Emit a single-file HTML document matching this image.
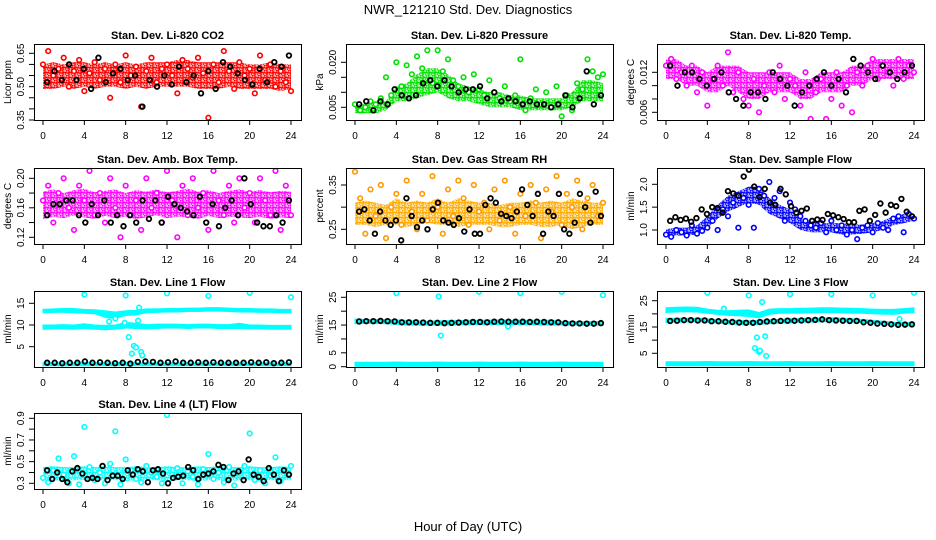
<!DOCTYPE html>
<html><head><meta charset="utf-8"><style>
html,body{margin:0;padding:0;background:#fff;}
svg{display:block;font-family:"Liberation Sans",sans-serif;}
</style></head><body>
<svg id="chart" width="936" height="540" viewBox="0 0 936 540" xmlns="http://www.w3.org/2000/svg">
<defs id="defs"></defs>
<text x="468" y="14" text-anchor="middle" font-size="13">NWR_121210  Std. Dev. Diagnostics</text>
<text x="468" y="531" text-anchor="middle" font-size="13">Hour of Day (UTC)</text>
</svg>
<script>
// ---- data ----
const xTicks=[0,4,8,12,16,20,24];
const co2Lo=[0.49,0.49,0.50,0.49,0.50,0.49,0.50,0.50,0.49,0.50,0.49,0.50,0.50,0.50,0.50,0.49,0.49,0.49,0.50,0.49,0.49,0.49,0.49,0.48,0.49];
const co2Hi=[0.60,0.61,0.60,0.61,0.61,0.60,0.61,0.60,0.61,0.60,0.61,0.61,0.61,0.62,0.62,0.61,0.61,0.61,0.61,0.61,0.60,0.60,0.61,0.60,0.60];
const co2Pts=[0.60,0.66,0.55,0.58,0.63,0.50,0.57,0.62,0.48,0.56,0.61,0.53,0.58,0.45,0.60,0.52,0.64,0.55,0.59,0.41,0.57,0.63,0.52,0.58,0.60,0.55,0.47,0.62,0.58,0.54,0.63,0.56,0.36,0.60,0.52,0.66,0.57,0.49,0.61,0.55,0.58,0.47,0.64,0.53,0.60,0.50,0.57,0.52,0.48];
const co2Black=[0.52,0.57,0.53,0.60,0.53,0.58,0.49,0.63,0.52,0.56,0.58,0.53,0.55,0.41,0.53,0.50,0.55,0.51,0.59,0.52,0.55,0.47,0.57,0.49,0.61,0.59,0.56,0.53,0.51,0.58,0.52,0.61,0.59,0.64];
const co2Ticks=[0.35,0.40,0.45,0.50,0.55,0.60,0.65];
const co2Labels=["0.35","","","0.50","","","0.65"];

const presLo=[0.003,0.003,0.003,0.004,0.007,0.007,0.008,0.009,0.010,0.008,0.007,0.007,0.006,0.005,0.005,0.005,0.004,0.004,0.004,0.004,0.004,0.005,0.007,0.007,0.007];
const presHi=[0.006,0.006,0.007,0.007,0.012,0.013,0.016,0.018,0.018,0.016,0.013,0.012,0.011,0.010,0.010,0.009,0.009,0.008,0.008,0.008,0.008,0.010,0.014,0.014,0.013];
const presPts=[0.006,0.004,0.005,0.007,0.006,0.008,0.015,0.009,0.020,0.012,0.019,0.016,0.022,0.018,0.024,0.013,0.024,0.017,0.021,0.014,0.012,0.015,0.010,0.016,0.011,0.009,0.014,0.010,0.008,0.012,0.007,0.009,0.021,0.004,0.008,0.011,0.006,0.010,0.005,0.012,0.002,0.009,0.004,0.013,0.011,0.021,0.017,0.015,0.016];
const presBlack=[0.006,0.007,0.004,0.007,0.006,0.011,0.009,0.008,0.009,0.013,0.014,0.012,0.014,0.012,0.010,0.011,0.011,0.012,0.008,0.010,0.007,0.008,0.007,0.006,0.007,0.006,0.006,0.005,0.006,0.009,0.005,0.008,0.017,0.006,0.009];
const presTicks=[0.005,0.010,0.015,0.020];
const presLabels=["0.005","","","0.020"];

const tempLo=[0.011,0.011,0.010,0.010,0.009,0.009,0.010,0.009,0.008,0.008,0.009,0.009,0.009,0.008,0.008,0.009,0.009,0.009,0.010,0.010,0.011,0.011,0.011,0.011,0.011];
const tempHi=[0.014,0.014,0.013,0.013,0.012,0.013,0.013,0.013,0.012,0.012,0.012,0.012,0.012,0.011,0.011,0.012,0.012,0.012,0.013,0.013,0.014,0.014,0.014,0.014,0.014];
const tempPts=[0.013,0.014,0.011,0.012,0.010,0.013,0.009,0.012,0.007,0.011,0.013,0.010,0.015,0.009,0.012,0.008,0.007,0.011,0.006,0.010,0.012,0.009,0.013,0.008,0.011,0.010,0.007,0.012,0.005,0.009,0.011,0.005,0.008,0.012,0.007,0.010,0.006,0.012,0.010,0.013,0.014,0.011,0.013,0.012,0.010,0.014,0.011,0.013,0.012];
const tempBlack=[0.013,0.010,0.012,0.012,0.011,0.010,0.011,0.012,0.009,0.008,0.007,0.009,0.009,0.008,0.012,0.011,0.010,0.007,0.009,0.010,0.011,0.012,0.010,0.011,0.009,0.014,0.013,0.012,0.011,0.013,0.012,0.011,0.012,0.013];
const tempTicks=[0.006,0.008,0.010,0.012];
const tempLabels=["0.006","","","0.012"];

const ambLo=[0.145,0.148,0.146,0.150,0.147,0.145,0.149,0.146,0.148,0.145,0.147,0.150,0.146,0.148,0.147,0.145,0.149,0.146,0.148,0.147,0.146,0.148,0.145,0.147,0.146];
const ambHi=[0.182,0.185,0.180,0.184,0.186,0.181,0.183,0.185,0.180,0.184,0.182,0.185,0.181,0.183,0.186,0.182,0.184,0.180,0.183,0.185,0.182,0.184,0.181,0.183,0.182];
const ambPts=[0.17,0.19,0.14,0.18,0.20,0.16,0.13,0.19,0.17,0.21,0.15,0.18,0.14,0.20,0.16,0.12,0.19,0.15,0.17,0.13,0.20,0.16,0.18,0.14,0.21,0.17,0.12,0.19,0.15,0.20,0.16,0.18,0.13,0.21,0.17,0.15,0.19,0.14,0.20,0.16,0.18,0.14,0.20,0.17,0.15,0.21,0.13,0.19,0.15];
const ambBlack=[0.15,0.165,0.165,0.17,0.17,0.15,0.14,0.165,0.15,0.17,0.14,0.15,0.135,0.15,0.14,0.17,0.145,0.17,0.14,0.175,0.165,0.16,0.155,0.15,0.175,0.14,0.165,0.135,0.16,0.17,0.15,0.20,0.165,0.14,0.135,0.135,0.15,0.14,0.17];
const ambTicks=[0.12,0.14,0.16,0.18,0.20];
const ambLabels=["0.12","","0.16","","0.20"];

const rhLo=[0.26,0.26,0.255,0.26,0.26,0.255,0.26,0.265,0.26,0.26,0.255,0.26,0.26,0.26,0.255,0.255,0.26,0.26,0.255,0.255,0.26,0.25,0.255,0.26,0.26];
const rhHi=[0.31,0.315,0.31,0.305,0.32,0.31,0.315,0.31,0.32,0.31,0.32,0.315,0.31,0.31,0.305,0.31,0.31,0.315,0.31,0.315,0.31,0.32,0.315,0.31,0.31];
const rhPts=[0.38,0.32,0.24,0.34,0.28,0.35,0.23,0.30,0.33,0.26,0.36,0.29,0.25,0.33,0.27,0.37,0.30,0.24,0.34,0.28,0.36,0.32,0.26,0.35,0.29,0.31,0.25,0.34,0.27,0.36,0.30,0.24,0.33,0.28,0.35,0.31,0.23,0.34,0.29,0.37,0.26,0.33,0.30,0.36,0.25,0.32,0.35,0.28,0.31];
const rhBlack=[0.29,0.295,0.27,0.24,0.29,0.27,0.26,0.27,0.225,0.32,0.28,0.255,0.27,0.25,0.295,0.31,0.27,0.265,0.26,0.275,0.245,0.295,0.24,0.24,0.305,0.32,0.31,0.285,0.28,0.275,0.29,0.34,0.305,0.28,0.33,0.24,0.29,0.28,0.33,0.25,0.24,0.265,0.33,0.30,0.265,0.335,0.28];
const rhTicks=[0.25,0.30,0.35];
const rhLabels=["0.25","","0.35"];

const sfLo=[0.88,0.88,0.88,0.90,1.05,1.25,1.40,1.50,1.60,1.55,1.35,1.25,1.15,1.00,0.95,0.95,0.95,0.90,0.90,0.92,0.95,1.00,1.10,1.15,1.20];
const sfHi=[1.02,1.05,1.05,1.10,1.30,1.55,1.75,1.85,1.95,1.95,1.70,1.55,1.45,1.25,1.20,1.15,1.15,1.15,1.12,1.12,1.15,1.20,1.30,1.35,1.30];
const sfPts=[0.90,0.85,1.00,0.95,0.88,1.10,0.92,0.98,1.05,1.20,1.00,1.45,1.30,1.60,1.05,1.70,1.55,1.05,1.90,1.75,2.05,1.70,1.85,1.20,1.60,1.45,1.30,1.20,1.10,1.05,1.15,0.95,1.20,1.00,1.10,0.90,1.00,0.80,1.05,1.10,0.95,1.15,1.05,1.00,1.25,1.30,0.95,1.35,1.25];
const sfBlack=[1.20,1.28,1.22,1.25,1.18,1.26,1.45,1.35,1.50,1.48,1.38,1.85,1.80,1.75,2.17,2.32,1.95,1.72,1.90,1.60,1.55,1.90,1.78,1.52,1.38,1.42,1.47,1.20,1.23,1.22,1.35,1.32,1.28,1.24,1.17,1.17,1.42,1.45,1.20,1.33,1.58,1.38,1.55,1.52,1.68,1.40,1.30];
const sfTicks=[1.0,1.5,2.0];
const sfLabels=["1.0","1.5","2.0"];

const l1TopLo=[12.8,12.9,12.9,12.8,12.7,12.6,11.8,11.5,12.2,12.3,12.8,12.9,13.0,13.0,13.1,13.1,13.2,13.2,13.1,13.0,13.0,12.9,12.9,12.8,12.8];
const l1TopHi=[13.6,13.7,13.8,13.8,13.6,13.5,13.3,13.0,13.3,13.4,13.7,13.7,13.8,13.8,13.9,13.9,14.0,14.0,13.9,13.8,13.8,13.7,13.7,13.6,13.6];
const l1MidLo=[9.0,9.1,9.1,9.0,9.2,9.0,8.9,9.0,9.3,9.2,9.1,9.2,9.3,9.3,9.2,9.3,9.3,9.2,9.2,9.2,9.1,9.1,9.0,9.0,9.0];
const l1MidHi=[10.0,10.0,10.1,10.0,10.3,10.0,9.9,10.0,10.6,10.4,10.1,10.2,10.2,10.2,10.1,10.2,10.2,10.1,10.1,10.4,10.0,10.0,9.9,9.9,9.9];
const l1BotLo=[0.6,0.6,0.6,0.6,0.6,0.6,0.6,0.6,0.6,0.6,0.6,0.6,0.6,0.6,0.6,0.6,0.6,0.6,0.6,0.6,0.6,0.6,0.6,0.6,0.6];
const l1BotHi=[1.3,1.3,1.3,1.3,1.4,1.3,1.3,1.3,1.4,1.3,1.3,1.3,1.3,1.3,1.3,1.3,1.3,1.3,1.3,1.3,1.3,1.3,1.3,1.3,1.3];
const l1OutT=[4,8,12,16,20,24,7.9,8.3,8.6,8.8,9.0,9.2,9.5,9.6,9.3,6.4,7.0];
const l1OutV=[17,16.8,17.3,16.7,17.4,16.4,10.5,7.2,3.4,5.2,4.8,11.0,3.8,3.0,14.0,10.8,11.5];
const l1Black=[1.3,1.3,1.2,1.3,1.3,1.6,1.3,1.4,1.3,1.2,1.3,1.1,1.5,1.6,1.5,1.3,1.4,1.6,1.3,1.3,1.4,1.3,1.4,1.3,1.3,1.3,1.3,1.4,1.3,1.4,1.2,1.3,1.4];
const l1Ticks=[5,10,15];
const l1Labels=["5","10","15"];

const l2TopLo=[15.5,15.6,15.6,15.5,15.3,15.0,15.0,15.0,15.0,15.0,15.1,15.1,15.2,15.2,15.2,15.2,15.1,15.1,15.0,15.0,15.0,14.9,14.9,14.9,14.9];
const l2TopHi=[17.2,17.0,17.0,17.0,16.9,16.6,16.5,16.4,16.5,16.6,16.6,16.7,16.8,16.8,16.9,16.8,16.8,16.7,16.7,16.7,16.4,16.3,16.2,16.2,16.3];
const l2BotLo=[0.1,0.1,0.1,0.1,0.1,0.1,0.1,0.1,0.1,0.1,0.1,0.1,0.1,0.1,0.1,0.1,0.1,0.1,0.1,0.1,0.1,0.1,0.1,0.1,0.1];
const l2BotHi=[1.6,1.6,1.6,1.6,1.7,1.6,1.6,1.6,1.7,1.6,1.6,1.6,1.7,1.6,1.6,1.6,1.7,1.6,1.6,1.6,1.7,1.6,1.6,1.6,1.6];
const l2OutT=[4,8.1,8.3,12,16,20,24,14.8];
const l2OutV=[26.5,25.3,11.2,27,26.5,27,25.8,14.5];
const l2Black=[16.3,16.4,16.4,16.5,16.4,16.3,16.0,16.0,16.0,15.9,15.8,15.8,15.7,15.8,15.9,16.0,16.1,16.1,16.0,16.2,16.3,16.2,16.2,16.2,16.1,16.2,16.1,16.0,16.0,15.7,15.6,15.6,15.5,15.5,15.7];
const l2Ticks=[0,5,10,15,20,25];
const l2Labels=["0","5","","15","","25"];

const l3TopLo=[20.5,20.7,20.8,20.7,20.2,19.8,19.4,19.3,19.0,18.5,19.8,20.2,20.3,20.3,20.4,20.5,20.5,20.4,20.3,20.2,20.0,19.9,19.8,20.2,20.5];
const l3TopHi=[22.3,22.5,22.6,22.5,21.8,21.4,21.2,21.4,21.5,20.5,21.8,22.0,22.0,22.1,22.2,22.3,22.3,22.2,22.1,22.0,21.8,21.7,21.7,22.0,22.3];
const l3MidLo=[16.7,16.9,17.0,17.0,16.8,16.5,16.2,16.0,15.9,16.0,16.3,16.5,16.6,16.8,16.9,17.0,17.1,17.0,16.9,16.6,16.3,16.0,15.5,15.4,15.4];
const l3MidHi=[18.3,18.3,18.4,18.3,18.1,17.8,17.6,17.5,17.4,17.5,17.7,17.9,18.1,18.2,18.3,18.4,18.5,18.3,18.2,17.9,17.6,17.2,16.8,16.7,16.7];
const l3BotLo=[0.3,0.3,0.3,0.3,0.3,0.3,0.3,0.3,0.3,0.3,0.3,0.3,0.3,0.3,0.3,0.3,0.3,0.3,0.3,0.3,0.3,0.3,0.3,0.3,0.3];
const l3BotHi=[1.8,1.8,1.8,1.8,1.9,1.8,1.8,1.8,1.9,1.8,1.8,1.8,1.9,1.8,1.8,1.8,1.9,1.8,1.8,1.8,1.9,1.8,1.8,1.8,1.8];
const l3OutT=[4,8,9.3,12,16,20,24,8.6,8.8,9.0,9.1,9.6,9.7,5.6,22.6];
const l3OutV=[28,27,24.5,27.5,27.5,27,28,7,11,5.5,6,11.5,4,22,18];
const l3Black=[17.3,17.4,17.6,17.6,17.5,17.5,17.2,17.2,17.0,16.9,16.7,16.6,16.6,16.9,17.1,17.2,17.3,17.4,17.4,17.5,17.6,17.7,17.9,17.6,17.5,17.4,17.3,17.3,16.8,16.6,16.3,16.2,16.0,15.8,15.9,16.0];
const l3Ticks=[5,10,15,20,25];
const l3Labels=["5","","15","","25"];

const l4Lo=[0.33,0.33,0.32,0.33,0.33,0.32,0.33,0.33,0.32,0.33,0.33,0.33,0.32,0.33,0.33,0.32,0.33,0.33,0.32,0.33,0.33,0.32,0.33,0.33,0.33];
const l4Hi=[0.45,0.46,0.45,0.45,0.46,0.45,0.46,0.45,0.45,0.46,0.45,0.45,0.46,0.45,0.45,0.46,0.45,0.46,0.45,0.45,0.46,0.45,0.45,0.46,0.45];
const l4Pts=[0.35,0.31,0.42,0.53,0.38,0.30,0.55,0.29,0.82,0.45,0.33,0.40,0.30,0.48,0.78,0.29,0.52,0.42,0.34,0.31,0.46,0.40,0.36,0.30,0.93,0.38,0.44,0.30,0.41,0.36,0.29,0.43,0.57,0.34,0.40,0.31,0.45,0.28,0.39,0.46,0.76,0.33,0.42,0.30,0.37,0.54,0.32,0.41,0.46];
const l4Black=[0.42,0.34,0.40,0.34,0.31,0.41,0.44,0.39,0.34,0.35,0.34,0.46,0.33,0.37,0.37,0.34,0.42,0.38,0.43,0.41,0.31,0.42,0.43,0.39,0.30,0.35,0.36,0.37,0.45,0.42,0.34,0.38,0.39,0.41,0.47,0.45,0.33,0.39,0.41,0.33,0.52,0.38,0.36,0.32,0.44,0.38,0.32,0.42,0.38];
const l4Ticks=[0.3,0.4,0.5,0.6,0.7,0.8,0.9];
const l4Labels=["0.3","","0.5","","0.7","","0.9"];

// ---- layout ----
const NS="http://www.w3.org/2000/svg";
const svg=document.getElementById('chart');
const defs=document.getElementById('defs');
const colLeft=[34,346,657], rowTop=[44,168,291,413], W=267, H=76;
function mk(tag,attrs,parent){const e=document.createElementNS(NS,tag);for(const k in attrs)e.setAttribute(k,attrs[k]);(parent||svg).appendChild(e);return e;}

const patCache={};
function pattern(color){
  if(patCache[color])return patCache[color];
  const id='pat'+Object.keys(patCache).length;
  const p=mk('pattern',{id:id,width:6,height:5,patternUnits:'userSpaceOnUse'},defs);
  mk('rect',{x:0,y:0,width:6,height:5,fill:color,'fill-opacity':0.35},p);
  mk('circle',{cx:1.5,cy:1.5,r:1.6,fill:'none',stroke:color,'stroke-width':1.3},p);
  mk('circle',{cx:4.5,cy:4,r:1.6,fill:'none',stroke:color,'stroke-width':1.3},p);
  patCache[color]='url(#'+id+')';
  return patCache[color];
}

const panels=[
 {name:"co2",title:"Stan. Dev. Li-820 CO2",ylab:"Licor ppm",c:0,r:0,v1:0.65,p1:9.3,v2:0.35,p2:76,ticks:co2Ticks,labels:co2Labels,color:"#ff0000",bands:[[co2Lo,co2Hi]],pts:co2Pts,black:co2Black},
 {name:"pressure",title:"Stan. Dev. Li-820 Pressure",ylab:"kPa",c:1,r:0,v1:0.020,p1:18.3,v2:0.005,p2:63.3,ticks:presTicks,labels:presLabels,color:"#00e000",bands:[[presLo,presHi]],pts:presPts,black:presBlack},
 {name:"li820-temp",title:"Stan. Dev. Li-820 Temp.",ylab:"degrees C",c:2,r:0,v1:0.012,p1:28.3,v2:0.006,p2:68.3,ticks:tempTicks,labels:tempLabels,color:"#ff00ff",bands:[[tempLo,tempHi]],pts:tempPts,black:tempBlack},
 {name:"amb-box-temp",title:"Stan. Dev. Amb. Box Temp.",ylab:"degrees C",c:0,r:1,v1:0.20,p1:10.3,v2:0.12,p2:69.3,ticks:ambTicks,labels:ambLabels,color:"#ff00ff",bands:[[ambLo,ambHi]],pts:ambPts,black:ambBlack},
 {name:"gas-stream-rh",title:"Stan. Dev. Gas Stream RH",ylab:"percent",c:1,r:1,v1:0.35,p1:17,v2:0.25,p2:61.3,ticks:rhTicks,labels:rhLabels,color:"#ff9900",bandColor:"#ffaa00",bands:[[rhLo,rhHi]],pts:rhPts,black:rhBlack},
 {name:"sample-flow",title:"Stan. Dev. Sample Flow",ylab:"ml/min",c:2,r:1,v1:2.0,p1:16.3,v2:1.0,p2:62,ticks:sfTicks,labels:sfLabels,color:"#0000ff",bands:[[sfLo,sfHi]],pts:sfPts,black:sfBlack},
 {name:"line1-flow",title:"Stan. Dev. Line 1 Flow",ylab:"ml/min",c:0,r:2,v1:15,p1:12.3,v2:5,p2:55.7,ticks:l1Ticks,labels:l1Labels,color:"#00ffff",solid:true,bands:[[l1TopLo,l1TopHi],[l1MidLo,l1MidHi],[l1BotLo,l1BotHi]],outT:l1OutT,outV:l1OutV,black:l1Black},
 {name:"line2-flow",title:"Stan. Dev. Line 2 Flow",ylab:"ml/min",c:1,r:2,v1:25,p1:6.3,v2:0,p2:75.7,ticks:l2Ticks,labels:l2Labels,color:"#00ffff",solid:true,bands:[[l2TopLo,l2TopHi],[l2BotLo,l2BotHi]],outT:l2OutT,outV:l2OutV,black:l2Black},
 {name:"line3-flow",title:"Stan. Dev. Line 3 Flow",ylab:"ml/min",c:2,r:2,v1:25,p1:9.7,v2:5,p2:62.3,ticks:l3Ticks,labels:l3Labels,color:"#00ffff",solid:true,bands:[[l3TopLo,l3TopHi],[l3MidLo,l3MidHi],[l3BotLo,l3BotHi]],outT:l3OutT,outV:l3OutV,black:l3Black},
 {name:"line4-flow",title:"Stan. Dev. Line 4 (LT) Flow",ylab:"ml/min",c:0,r:3,v1:0.9,p1:5.3,v2:0.3,p2:70.3,ticks:l4Ticks,labels:l4Labels,color:"#00ffff",bands:[[l4Lo,l4Hi]],pts:l4Pts,black:l4Black}
];

panels.forEach((p,pi)=>{
  const L=colLeft[p.c], T=rowTop[p.r];
  const g=mk('g',{});
  
  
  const xs=t=>L+9+t/24*248;
  const ys=v=>T+p.p1+(v-p.v1)/(p.v2-p.v1)*(p.p2-p.p1);
  const cid='clip'+pi;
  const cp=mk('clipPath',{id:cid},g); mk('rect',{x:L,y:T,width:W,height:H},cp);
  const plot=mk('g',{'clip-path':'url(#'+cid+')'},g);
  p.bands.forEach((b,bi)=>{
    const lo=b[0],hi=b[1];let d='';
    hi.forEach((v,i)=>{d+=(i?'L':'M')+xs(i).toFixed(1)+','+ys(v).toFixed(1);});
    for(let i=lo.length-1;i>=0;i--)d+='L'+xs(i).toFixed(1)+','+ys(lo[i]).toFixed(1);
    const col=p.bandColor||p.color;
    const attrs=p.solid?{d:d+'Z',fill:col,stroke:col,'stroke-width':1}:{d:d+'Z',fill:pattern(col),stroke:'none'};
    const e=mk('path',attrs,plot);
    
    
  });
  if(p.pts){p.pts.forEach((v,i)=>{
    const e=mk('circle',{cx:xs(i*24/(p.pts.length-1)),cy:ys(v),r:2.3,fill:'#fff',stroke:p.color,'stroke-width':1.6},plot);
    
    
  });}
  if(p.outT){p.outT.forEach((t,i)=>{
    const e=mk('circle',{cx:xs(t),cy:ys(p.outV[i]),r:2.3,fill:'#fff',stroke:p.color,'stroke-width':1.6},plot);
    
    
  });}
  p.black.forEach((v,i)=>{
    const e=mk('circle',{cx:xs(0.4+i*23.4/(p.black.length-1)),cy:ys(v),r:2.3,fill:'none',stroke:'#000','stroke-width':1.8},plot);
    
    
  });
  const fr=mk('rect',{x:L+0.5,y:T+0.5,width:W,height:H,fill:'none',stroke:'#000','stroke-width':1},g);
  
  
  const tt=mk('text',{x:L+W/2,y:T-5,'text-anchor':'middle','font-size':11,'font-weight':'bold'},g);
  tt.textContent=p.title;
  
  
  xTicks.forEach(t=>{
    mk('line',{x1:xs(t),x2:xs(t),y1:T+H,y2:T+H+5,stroke:'#000'},g);
    const e=mk('text',{x:xs(t),y:T+H+19,'text-anchor':'middle','font-size':10},g);
    e.textContent=t;
    
    
  });
  p.ticks.forEach((v,i)=>{
    const y=ys(v);
    mk('line',{x1:L-5,x2:L,y1:y,y2:y,stroke:'#000'},g);
    if(p.labels[i]){
      const e=mk('text',{x:0,y:0,'text-anchor':'middle','font-size':10,transform:'translate('+(L-10)+','+y.toFixed(1)+') rotate(-90)'},g);
      e.textContent=p.labels[i];
      
      
    }
  });
  const yl=mk('text',{x:0,y:0,'text-anchor':'middle','font-size':10,transform:'translate('+(L-23)+','+(T+H/2)+') rotate(-90)'},g);
  yl.textContent=p.ylab;
  
  
});
</script>
</body></html>
